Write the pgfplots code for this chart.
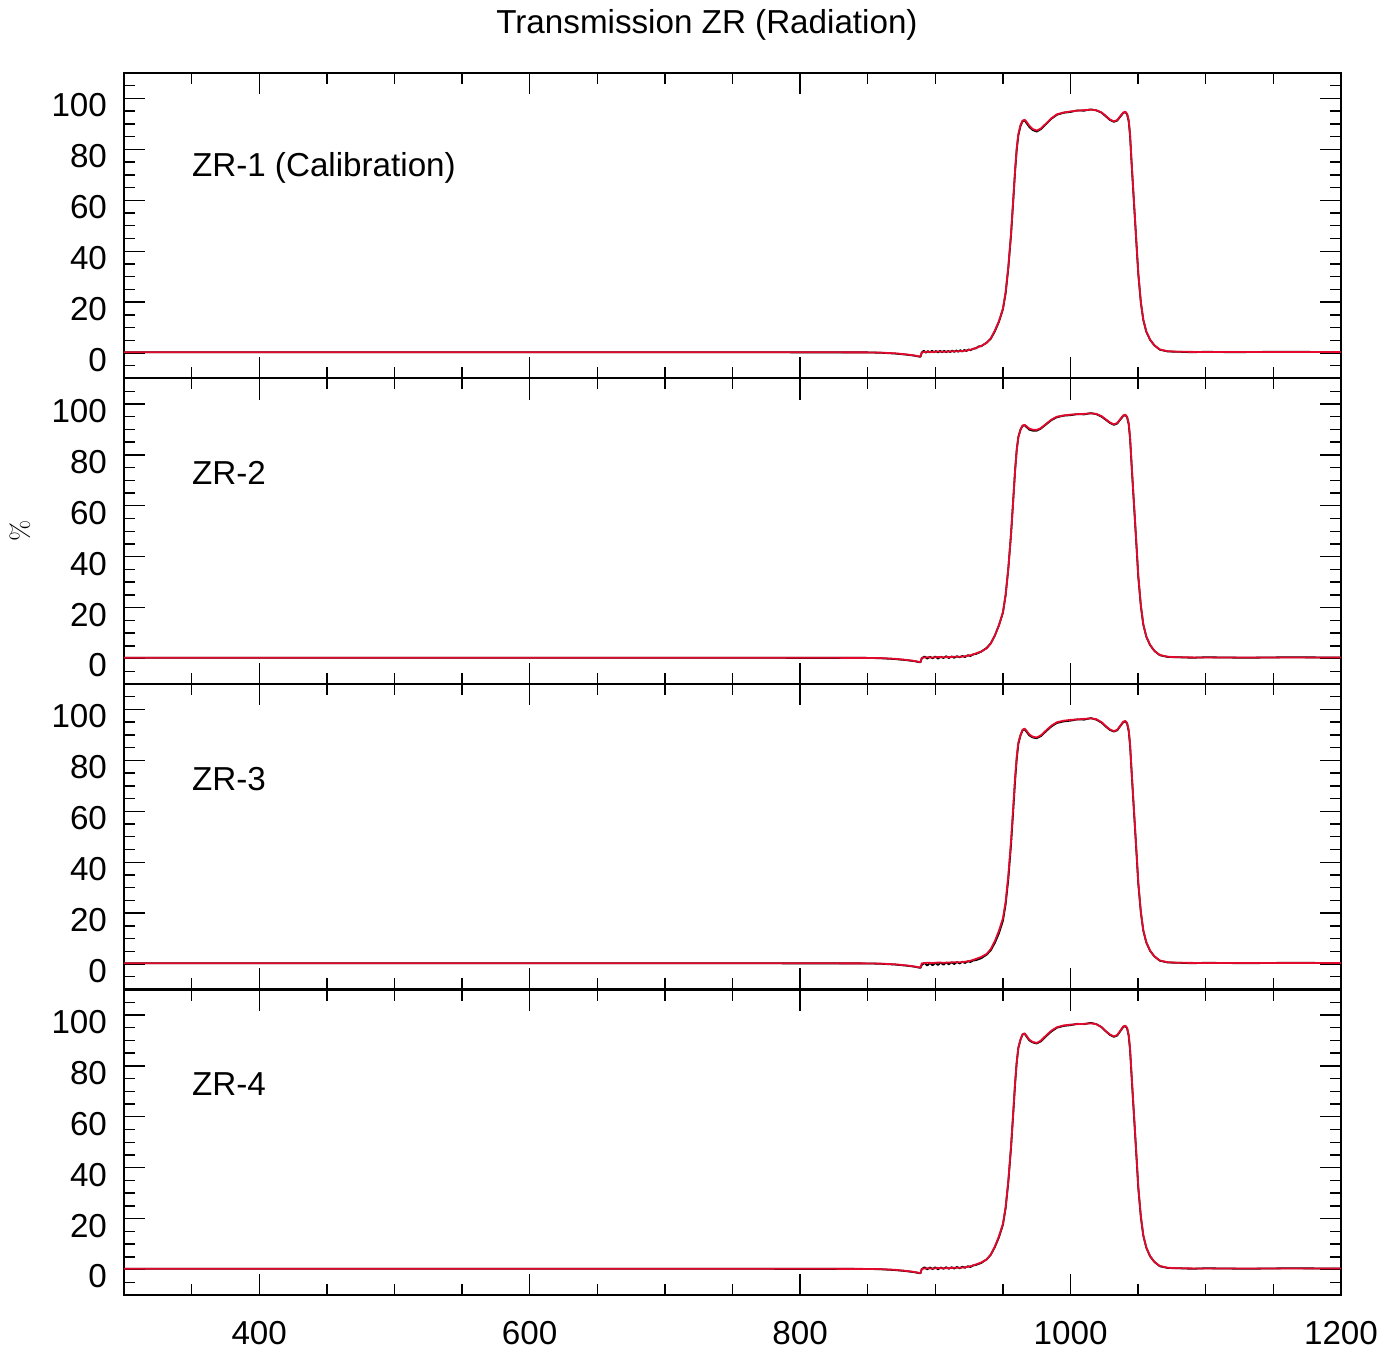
\documentclass[border=0pt]{standalone}
\usepackage{fontspec}
\setmainfont{Liberation Sans}
\usepackage{pgfplots}
\pgfplotsset{compat=1.18}
\definecolor{idlred}{RGB}{225,10,45}
\tikzset{zrlabel/.style={anchor=west, inner sep=0pt, font=\fontsize{16.6}{18}\selectfont}}
\pgfplotsset{
  panel/.style={
    scale only axis, width=608.5pt, height=152.75pt,
    xmin=300, xmax=1200, ymin=-10, ymax=110,
    xtick={400,600,800,1000,1200},
    minor xtick={350,450,500,550,650,700,750,850,900,950,1050,1100,1150},
    ytick={0,20,40,60,80,100},
    minor ytick={-5,5,10,15,25,30,35,45,50,55,65,70,75,85,90,95,105},
    tick align=inside, major tick length=10.5pt, minor tick length=5.5pt,
    axis line style={line width=1pt},
    every tick/.style={line width=0.7pt, black},
    tick label style={font=\fontsize{16.6}{18}\selectfont},
    /pgf/number format/assume math mode=true,
    /pgf/number format/1000 sep={},
    yticklabel style={xshift=-5pt, yshift=-3.5pt},
    xticklabel style={yshift=-9.5pt},
    every axis plot/.append style={line width=0.9pt, line join=round},
  },
  inner/.style={xticklabels={}},
}
\begin{document}
\begin{tikzpicture}
\useasboundingbox (-62pt,36.5pt) rectangle (637pt,-639.5pt);
\node[font=\fontsize{16.6}{18}\selectfont] at (291.5pt,24pt) {Transmission ZR (Radiation)};
% ---------- Panel 1
\begin{axis}[panel, inner, at={(0pt,0pt)}, anchor=north west]
\addplot[black] coordinates {(300,0.3) (500,0.3) (700,0.3) (850,0.25) (860,0.1) (870,-0.2) (878,-0.6) (884,-1.0) (889,-1.5) (890,0.2) (891.5,0.9) (893,0.1) (894.5,0.8) (896,0.2) (897.5,0.9) (899,0.3) (900.5,0.8) (902,0.2) (903.5,0.9) (905,0.3) (906.5,0.9) (908,0.3) (909.5,0.8) (911,0.4) (912.5,1.0) (914,0.4) (915.5,1.0) (917,0.5) (918.5,1.1) (920,0.6) (921.5,1.2) (923,0.8) (924.5,1.4) (926,1.1) (928,1.7) (930,1.8) (932,2.6) (934,2.7) (938,4.1) (941,5.6) (944,8.5) (947,12.2) (950,17.2) (952,23.5) (954,33.5) (956,46.5) (957.7,60.5) (959,71.5) (960.2,80) (961.4,85.5) (963,89.2) (964.5,91.0) (966,91.4) (967.5,90.3) (969.5,88.8) (972,87.6) (975,87.0) (978,87.9) (982,90.0) (986,92.1) (990,93.6) (995,94.4) (1000,94.7) (1005,95.3) (1010,95.2) (1015,95.7) (1019,95.3) (1023,94.4) (1026,93.0) (1029,91.6) (1032,90.8) (1034.5,91.3) (1037,93.0) (1039,94.3) (1040.5,94.6) (1041.8,93.8) (1043,91.0) (1044,85.5) (1045.2,74.0) (1046.5,62.5) (1047.7,52) (1049,40.5) (1050.1,31.0) (1052,19.7) (1053.8,13.0) (1056,8.4) (1058.8,5.2) (1062,3.0) (1066,1.3) (1072,0.6) (1080,0.5) (1090,0.3) (1100,0.5) (1120,0.3) (1150,0.5) (1200,0.4)};
\addplot[idlred] coordinates {(300,0.3) (400,0.3) (500,0.3) (600,0.3) (700,0.3) (800,0.3) (850,0.25) (860,0.15) (870,-0.1) (878,-0.5) (884,-0.9) (889,-1.4) (890,0.3) (894,0.5) (898,0.4) (902,0.6) (906,0.5) (910,0.6) (914,0.7) (918,0.7) (922,0.9) (926,1.3) (930,2.0) (934,2.8) (938,4.0) (941,5.8) (944,8.8) (947,12.5) (950,17.5) (952,24) (954,34) (956,47) (957.7,61) (959,72) (960.2,80.5) (961.4,86) (963,89.6) (964.5,91.3) (966,91.6) (967.5,90.8) (969.5,89.3) (972,88.0) (975,87.4) (978,88.2) (982,90.2) (986,92.3) (990,93.8) (995,94.5) (1000,94.9) (1005,95.2) (1010,95.4) (1015,95.6) (1019,95.4) (1023,94.5) (1026,93.2) (1029,91.8) (1032,91.0) (1034.5,91.5) (1037,93.2) (1039,94.5) (1040.5,94.8) (1041.8,94.0) (1043,91.5) (1044,86) (1045.2,74.6) (1046.5,63) (1047.7,52.4) (1049,41) (1050.1,31.4) (1052,20) (1053.8,13.1) (1056,8.5) (1058.8,5.3) (1062,3.0) (1066,1.4) (1072,0.7) (1080,0.5) (1100,0.4) (1150,0.4) (1200,0.4)};
\node[zrlabel] at (axis cs:350,72.8) {ZR-1 (Calibration)};
\end{axis}
% ---------- Panel 2
\begin{axis}[panel, inner, at={(0pt,-152.75pt)}, anchor=north west,
  ylabel={\fontfamily{lmr}\fontsize{13}{14}\selectfont\%},
  ylabel style={at={(axis description cs:-0.0855,0.5)}, anchor=center}]
\addplot[black] coordinates {(300,0.3) (500,0.3) (700,0.3) (850,0.25) (860,0.1) (870,-0.2) (878,-0.6) (884,-1.0) (889,-1.5) (890,0.1) (892,0.8) (894,0.0) (896,0.7) (898,0.1) (900,0.8) (902,0.0) (904,0.7) (906,0.2) (908,0.9) (910,0.2) (912,0.8) (914,0.3) (916,0.9) (918,0.5) (920,1.0) (922,0.6) (924,1.3) (926,1.0) (928,1.6) (930,1.8) (934,2.7) (938,4.2) (941,6.0) (944,9.0) (947,13.0) (950,18.0) (952,25) (954,35.5) (956,49) (957.7,63) (959,74) (960.2,82) (961.4,87) (963,90.0) (964.5,91.4) (966,91.6) (967.5,90.9) (969.5,89.9) (972,89.5) (975,89.5) (978,90.3) (982,92.0) (986,93.7) (990,94.8) (995,95.4) (1000,95.6) (1005,96.0) (1010,95.9) (1015,96.4) (1019,96.0) (1023,95.0) (1026,93.8) (1029,92.6) (1032,91.8) (1034.5,92.3) (1037,94.0) (1039,95.3) (1040.5,95.6) (1041.8,94.8) (1043,92.0) (1044,86.5) (1045.2,75.5) (1046.5,64) (1047.7,53.5) (1049,42) (1050.1,32.0) (1052,20.5) (1053.8,13.3) (1056,8.6) (1058.8,5.3) (1062,3.0) (1066,1.3) (1072,0.6) (1080,0.5) (1090,0.3) (1100,0.5) (1130,0.3) (1160,0.5) (1200,0.4)};
\addplot[idlred] coordinates {(300,0.3) (500,0.3) (700,0.3) (800,0.3) (850,0.25) (860,0.15) (870,-0.1) (878,-0.5) (884,-0.9) (889,-1.4) (890,0.3) (894,0.5) (898,0.4) (902,0.6) (906,0.5) (910,0.6) (914,0.7) (918,0.7) (922,0.9) (926,1.3) (930,2.0) (934,2.8) (938,4.0) (941,5.9) (944,9.0) (947,13.0) (950,18.2) (952,25) (954,35.5) (956,49) (957.7,63) (959,74) (960.2,82) (961.4,87) (963,89.8) (964.5,91.5) (966,91.8) (967.5,91.2) (969.5,90.3) (972,89.9) (975,89.8) (978,90.5) (982,92.2) (986,93.9) (990,95.0) (995,95.5) (1000,95.8) (1005,96.0) (1010,96.1) (1015,96.3) (1019,96.1) (1023,95.2) (1026,94.0) (1029,92.8) (1032,92.0) (1034.5,92.5) (1037,94.2) (1039,95.5) (1040.5,95.8) (1041.8,95.0) (1043,92.5) (1044,87) (1045.2,76) (1046.5,64.5) (1047.7,54) (1049,42.5) (1050.1,32.5) (1052,21) (1053.8,13.5) (1056,8.7) (1058.8,5.4) (1062,3.0) (1066,1.4) (1072,0.7) (1080,0.5) (1100,0.4) (1150,0.4) (1200,0.4)};
\node[zrlabel] at (axis cs:350,72.8) {ZR-2};
\end{axis}
% ---------- Panel 3
\begin{axis}[panel, inner, at={(0pt,-305.5pt)}, anchor=north west]
\addplot[black] coordinates {(300,0.3) (500,0.3) (700,0.3) (850,0.25) (860,0.1) (870,-0.2) (878,-0.6) (884,-1.0) (889,-1.5) (890,-0.4) (892,0.5) (894,-0.6) (896,0.4) (898,-0.5) (900,0.5) (902,-0.4) (904,0.6) (906,-0.3) (908,0.6) (910,-0.1) (912,0.7) (914,0.0) (916,0.8) (918,0.2) (920,0.9) (922,0.4) (924,1.1) (926,0.8) (928,1.4) (930,1.5) (934,2.3) (938,3.7) (941,5.4) (944,8.3) (947,12.0) (950,17.0) (952,23.5) (954,33.5) (956,47) (957.7,61) (959,72) (960.2,80.5) (961.4,86.5) (963,89.8) (964.5,91.8) (966,92.2) (967.5,91.2) (969.5,89.8) (972,89.0) (975,88.7) (978,89.5) (982,91.5) (986,93.4) (990,94.7) (995,95.3) (1000,95.6) (1005,96.1) (1010,96.0) (1015,96.6) (1019,96.0) (1023,94.8) (1026,93.3) (1029,92.0) (1032,91.3) (1034.5,91.8) (1037,93.6) (1039,95.0) (1040.5,95.3) (1041.8,94.5) (1043,91.5) (1044,86) (1045.2,75) (1046.5,63.5) (1047.7,53) (1049,41.5) (1050.1,31.5) (1052,20.2) (1053.8,13.1) (1056,8.5) (1058.8,5.2) (1062,3.0) (1066,1.3) (1072,0.6) (1080,0.5) (1090,0.3) (1100,0.5) (1130,0.3) (1160,0.5) (1200,0.4)};
\addplot[idlred] coordinates {(300,0.3) (500,0.3) (700,0.3) (800,0.3) (850,0.25) (860,0.15) (870,-0.1) (878,-0.5) (884,-0.9) (889,-1.4) (890,0.3) (894,0.5) (898,0.4) (902,0.6) (906,0.5) (910,0.6) (914,0.7) (918,0.7) (922,0.9) (926,1.3) (930,2.0) (934,2.8) (938,4.0) (941,5.9) (944,9.0) (947,13.0) (950,18.0) (952,24.5) (954,35) (956,48.5) (957.7,62.5) (959,73.5) (960.2,81.5) (961.4,87) (963,90.0) (964.5,92.0) (966,92.5) (967.5,91.6) (969.5,90.2) (972,89.3) (975,89.0) (978,89.8) (982,91.8) (986,93.7) (990,95.0) (995,95.6) (1000,95.9) (1005,96.1) (1010,96.3) (1015,96.5) (1019,96.2) (1023,95.0) (1026,93.5) (1029,92.2) (1032,91.5) (1034.5,92.0) (1037,93.8) (1039,95.2) (1040.5,95.5) (1041.8,94.7) (1043,92.0) (1044,86.5) (1045.2,75.5) (1046.5,64) (1047.7,53.5) (1049,42) (1050.1,32) (1052,20.5) (1053.8,13.3) (1056,8.6) (1058.8,5.3) (1062,3.0) (1066,1.4) (1072,0.7) (1080,0.5) (1100,0.4) (1150,0.4) (1200,0.4)};
\node[zrlabel] at (axis cs:350,72.8) {ZR-3};
\end{axis}
% ---------- Panel 4
\begin{axis}[panel, at={(0pt,-458.25pt)}, anchor=north west]
\addplot[black] coordinates {(300,0.3) (500,0.3) (700,0.3) (850,0.25) (860,0.1) (870,-0.2) (878,-0.6) (884,-1.0) (889,-1.5) (890,0.2) (892,0.9) (894,0.1) (896,0.8) (898,0.2) (900,0.9) (902,0.1) (904,0.8) (906,0.3) (908,0.9) (910,0.3) (912,0.9) (914,0.4) (916,1.0) (918,0.5) (920,1.1) (922,0.7) (924,1.3) (926,1.0) (928,1.6) (930,1.8) (934,2.6) (938,4.0) (941,5.8) (944,8.8) (947,12.6) (950,17.6) (952,24.2) (954,34.5) (956,48) (957.7,62) (959,73) (960.2,81.5) (961.4,87) (963,90.3) (964.5,92.3) (966,92.6) (967.5,91.5) (969.5,90.0) (972,89.2) (975,88.8) (978,89.6) (982,91.7) (986,93.6) (990,95.0) (995,95.7) (1000,96.0) (1005,96.5) (1010,96.4) (1015,96.9) (1019,96.4) (1023,95.2) (1026,93.6) (1029,92.2) (1032,91.4) (1034.5,91.9) (1037,93.8) (1039,95.3) (1040.5,95.6) (1041.8,94.8) (1043,91.8) (1044,86.3) (1045.2,75.5) (1046.5,64) (1047.7,53.5) (1049,42) (1050.1,32) (1052,20.5) (1053.8,13.3) (1056,8.6) (1058.8,5.2) (1062,3.0) (1066,1.3) (1072,0.6) (1080,0.5) (1090,0.3) (1100,0.5) (1130,0.3) (1160,0.5) (1200,0.4)};
\addplot[idlred] coordinates {(300,0.3) (500,0.3) (700,0.3) (800,0.3) (850,0.25) (860,0.15) (870,-0.1) (878,-0.5) (884,-0.9) (889,-1.4) (890,0.3) (894,0.5) (898,0.4) (902,0.6) (906,0.5) (910,0.6) (914,0.7) (918,0.7) (922,0.9) (926,1.3) (930,2.0) (934,2.8) (938,4.0) (941,5.9) (944,9.0) (947,13.0) (950,18.0) (952,24.5) (954,35) (956,48.5) (957.7,62.5) (959,73.5) (960.2,81.5) (961.4,87.2) (963,90.4) (964.5,92.4) (966,92.8) (967.5,91.8) (969.5,90.3) (972,89.4) (975,89.0) (978,89.9) (982,92.0) (986,93.9) (990,95.2) (995,95.9) (1000,96.2) (1005,96.4) (1010,96.5) (1015,96.7) (1019,96.4) (1023,95.2) (1026,93.7) (1029,92.4) (1032,91.6) (1034.5,92.1) (1037,94.0) (1039,95.5) (1040.5,95.8) (1041.8,95.0) (1043,92.2) (1044,86.8) (1045.2,76) (1046.5,64.5) (1047.7,54) (1049,42.5) (1050.1,32.5) (1052,21) (1053.8,13.5) (1056,8.7) (1058.8,5.3) (1062,3.0) (1066,1.4) (1072,0.7) (1080,0.5) (1100,0.4) (1150,0.4) (1200,0.4)};
\node[zrlabel] at (axis cs:350,72.8) {ZR-4};
\end{axis}
\end{tikzpicture}
\end{document}
